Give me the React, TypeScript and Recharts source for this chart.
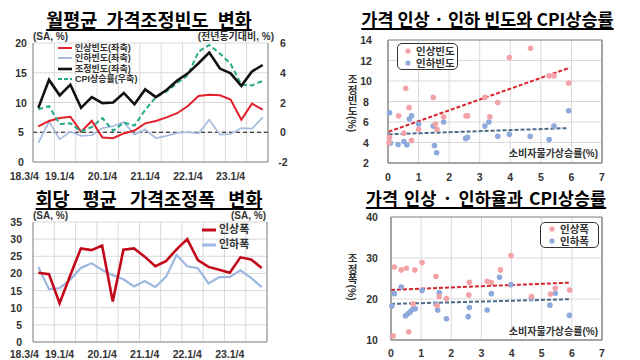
import React from 'react';
import {
  LineChart, Line, XAxis, YAxis, CartesianGrid, ReferenceLine,
  ScatterChart, Scatter, ReferenceArea,
} from 'recharts';

const FONT = '"Noto Sans CJK KR", "Noto Sans", sans-serif';
const SMALL = '"Liberation Sans", "Noto Sans CJK KR", sans-serif';

// ---------- time-series data (2018 Q3 .. 2023 Q4) ----------
const quarterIdx = [0, 1, 2, 3, 4, 5, 6, 7, 8, 9, 10, 11, 12, 13, 14, 15, 16, 17, 18, 19, 20, 21];
const timeTicks = [0, 2, 6, 10, 14, 18];
const timeTickLabels = ['18.3/4', '19.1/4', '20.1/4', '21.1/4', '22.1/4', '23.1/4'];
const gridX = [-0.5, 1.5, 3.5, 5.5, 7.5, 9.5, 11.5, 13.5, 15.5, 17.5, 19.5, 21.5];

const raiseFreq = [6.0, 6.9, 7.4, 7.6, 5.1, 6.9, 4.1, 4.0, 4.8, 5.3, 6.5, 6.9, 7.5, 8.2, 9.4, 11.1, 11.3, 11.2, 10.5, 7.1, 9.8, 8.8];
const cutFreq = [3.2, 6.8, 3.8, 5.1, 4.4, 4.5, 5.7, 6.0, 6.7, 4.6, 5.5, 4.0, 4.4, 4.9, 5.0, 4.8, 7.1, 4.6, 4.7, 5.7, 5.6, 7.5];
const adjFreq = [9.1, 13.8, 11.2, 13.0, 9.1, 10.9, 9.9, 10.0, 11.6, 9.7, 12.2, 10.9, 12.1, 13.7, 14.9, 16.6, 18.4, 15.7, 14.9, 12.8, 15.2, 16.3];
const cpiRate = [1.55, 1.75, 0.55, 0.6, 0.05, 0.35, 0.95, 0.1, 0.65, 0.45, 1.5, 2.35, 2.75, 3.3, 3.85, 5.42, 5.87, 5.3, 4.6, 3.2, 3.15, 3.45];

const raiseSize = [20.2, 19.8, 11.3, 19.4, 27.3, 26.8, 28.1, 11.8, 26.9, 27.3, 24.9, 22.1, 23.6, 27.0, 30.0, 23.9, 21.9, 21.1, 20.2, 24.7, 24.1, 21.6];
const cutSize = [21.9, 15.4, 15.7, 18.2, 21.6, 23.0, 21.0, 19.5, 18.3, 16.2, 17.8, 16.0, 19.0, 25.4, 22.1, 21.5, 17.1, 18.9, 19.0, 20.9, 18.7, 16.0];

// ---------- scatter data ----------
const sfRaiseX = [0.05, 0.03, 0.35, 0.52, 0.58, 0.69, 0.77, 1.0, 1.48, 1.55, 1.6, 1.82, 2.55, 2.61, 3.17, 3.33, 3.59, 3.97, 4.66, 5.27, 5.43, 5.91];
const sfRaiseY = [4.5, 4.0, 6.6, 4.9, 9.3, 7.4, 4.2, 5.3, 8.4, 5.8, 5.3, 6.5, 6.6, 6.6, 8.4, 6.5, 7.9, 12.3, 13.2, 10.5, 10.5, 9.8];
const sfCutX = [0.05, 0.08, 0.33, 0.52, 0.62, 0.7, 0.77, 1.0, 1.48, 1.52, 1.59, 1.82, 2.54, 2.6, 3.17, 3.3, 3.59, 3.97, 4.65, 5.27, 5.43, 5.91];
const sfCutY = [6.9, 3.95, 3.8, 4.1, 3.75, 6.3, 6.6, 5.8, 5.6, 3.7, 3.0, 6.0, 4.4, 4.5, 5.6, 6.0, 4.6, 4.8, 4.6, 4.3, 5.6, 7.1];
const sfRaiseTrend = [{ x: 0.02, y: 5.05 }, { x: 5.95, y: 11.3 }];
const sfCutTrend = [{ x: 0.02, y: 4.8 }, { x: 5.85, y: 5.4 }];

const ssRaiseX = [0.07, 0.11, 0.34, 0.51, 0.59, 0.73, 0.79, 1.03, 1.49, 1.53, 1.6, 1.84, 2.58, 2.6, 3.19, 3.33, 3.63, 3.98, 4.66, 5.29, 5.45, 5.93];
const ssRaiseY = [11.0, 27.8, 27.1, 27.5, 12.0, 18.8, 27.1, 28.9, 25.5, 18.4, 20.6, 20.1, 21.0, 24.1, 24.3, 24.0, 27.1, 30.6, 20.6, 21.2, 22.6, 22.2];
const ssCutX = [0.03, 0.11, 0.34, 0.48, 0.56, 0.64, 0.72, 0.81, 1.03, 1.49, 1.55, 1.6, 1.84, 2.56, 2.6, 3.19, 3.33, 3.6, 3.98, 4.66, 5.27, 5.45, 5.92];
const ssCutY = [18.3, 21.3, 22.9, 15.9, 16.4, 16.9, 17.5, 17.6, 22.1, 18.8, 17.3, 21.6, 15.2, 15.7, 17.9, 17.3, 21.3, 25.3, 23.5, 20.2, 18.5, 21.4, 16.0];
const ssRaiseTrend = [{ x: 0, y: 22.2 }, { x: 5.95, y: 24.0 }];
const ssCutTrend = [{ x: 0, y: 18.8 }, { x: 5.95, y: 19.95 }];

// ---------- tables built from the arrays ----------
const freqRows = quarterIdx.map((i) => ({ i, raise: raiseFreq[i], cut: cutFreq[i], adj: adjFreq[i], cpi: cpiRate[i] }));
const sizeRows = quarterIdx.map((i) => ({ i, raise: raiseSize[i], cut: cutSize[i] }));
const zip = (xs: number[], ys: number[]) => xs.map((x, k) => ({ x, y: ys[k] }));

// ---------- styles ----------
const C = {
  red: '#E3212B',
  lightBlue: '#A7BCE0',
  black: '#111111',
  teal: '#25A887',
  darkRed: '#C3081B',
  blue2: '#9DB9E1',
  pink: '#F3A3A7',
  dotBlue: '#8EA9DB',
  trendRed: '#D8232D',
  trendSlate: '#4A6B8A',
  grid: '#D9D9D9',
  axis: '#8C8C8C',
  text: '#333333',
};

const tickText = { fontFamily: SMALL, fontSize: 10.5, fontWeight: 700, fill: C.text } as const;

const mkTick = (anchor: 'start' | 'middle' | 'end', dx: number, dy: number) => (p: any) => (
  <text x={p.x + dx} y={p.y + dy} textAnchor={anchor} dominantBaseline="central" {...tickText}>
    {p.payload.value}
  </text>
);

const mkTimeTick = (dy: number) => (p: any) => {
  const k = timeTicks.indexOf(p.payload.value);
  const label = k >= 0 ? timeTickLabels[k] : '';
  const shift = k === 0 ? -14 : 0;
  return (
    <text x={p.x + shift} y={p.y + dy} textAnchor="middle" dominantBaseline="central" {...tickText}>
      {label}
    </text>
  );
};

const abs = (left: number, top: number, extra: React.CSSProperties = {}): React.CSSProperties => ({
  position: 'absolute', left, top, ...extra,
});

const Title = ({ left, top, width, text, fs, ws }: { left: number; top: number; width: number; text: string; fs: number; ws: number }) => (
  <div
    style={abs(left, top, {
      width, textAlign: 'center', fontFamily: FONT, fontWeight: 700, fontSize: fs, lineHeight: '20px',
      color: '#000', textDecoration: 'underline', textDecorationThickness: '1.5px', textUnderlineOffset: '2px',
      whiteSpace: 'nowrap', wordSpacing: `${ws}px`,
    })}
  >
    {text}
  </div>
);

const SmallText = ({ left, top, text, align = 'left', width }: { left: number; top: number; text: string; align?: 'left' | 'right'; width?: number }) => (
  <div style={abs(left, top, { width, textAlign: align, fontFamily: SMALL, fontWeight: 700, fontSize: 10, lineHeight: '12px', color: C.text, whiteSpace: 'nowrap' })}>
    {text}
  </div>
);

const LineKey = ({ color, dash, w, label, fs = 9, h = 10.3 }: { color: string; dash?: string; w: number; label: string; fs?: number; h?: number }) => (
  <div style={{ display: 'flex', alignItems: 'center', height: h }}>
    <svg width={16} height={8} style={{ marginRight: 2, flex: 'none' }}>
      <line x1={1} y1={4} x2={15} y2={4} stroke={color} strokeWidth={w} strokeDasharray={dash} />
    </svg>
    <div style={{ fontFamily: SMALL, fontWeight: 700, fontSize: fs, lineHeight: `${h}px`, height: h, color: C.text, whiteSpace: 'nowrap' }}>{label}</div>
  </div>
);

const DotKey = ({ color, label }: { color: string; label: string }) => (
  <div style={{ display: 'flex', alignItems: 'center', height: 12 }}>
    <svg width={10} height={8} style={{ marginRight: 3, flex: 'none' }}>
      <circle cx={5} cy={4} r={2.6} fill={color} />
    </svg>
    <div style={{ fontFamily: SMALL, fontWeight: 700, fontSize: 10.5, lineHeight: '12px', height: 12, color: C.text, whiteSpace: 'nowrap' }}>{label}</div>
  </div>
);

const VLabel = ({ left, top, word, unit }: { left: number; top: number; word: string; unit: string }) => (
  <div style={abs(left, top, { writingMode: 'vertical-rl', fontFamily: SMALL, fontWeight: 700, fontSize: 10.5, lineHeight: '11px', color: C.text, whiteSpace: 'nowrap' })}>
    <span style={{ textOrientation: 'upright', fontFamily: FONT }}>{word}</span>
    <span style={{ textOrientation: 'sideways' }}>{unit}</span>
  </div>
);

const dot = (color: string) => (p: any) => <circle cx={p.cx} cy={p.cy} r={2.8} fill={color} />;

export default function App() {
  return (
    <div style={{ position: 'absolute', left: 0, top: 0, width: 640, height: 360, background: '#fff', overflow: 'hidden' }}>
      {/* ---------------- top-left ---------------- */}
      <div style={abs(0, 0)}>
        <LineChart width={320} height={190} data={freqRows} margin={{ top: 43, right: 0, bottom: 10, left: 0 }}>
          <CartesianGrid stroke={C.grid} verticalValues={gridX} yAxisId="l" />
          <XAxis dataKey="i" type="number" domain={[-0.5, 21.5]} ticks={timeTicks} height={18}
            tickSize={0} tickMargin={0} tickLine={false} axisLine={{ stroke: C.axis }} tick={mkTimeTick(14)} interval={0} />
          <YAxis yAxisId="l" domain={[0, 20]} ticks={[0, 5, 10, 15, 20]} width={33}
            tickSize={0} tickMargin={0} tickLine={false} axisLine={{ stroke: C.axis }} tick={mkTick('middle', -12, 0)} interval={0} />
          <YAxis yAxisId="r" orientation="right" domain={[-2, 6]} ticks={[-2, 0, 2, 4, 6]} width={52}
            tickSize={0} tickMargin={0} tickLine={false} axisLine={{ stroke: C.axis }} tick={mkTick('middle', 15, 0)} interval={0} />
          <ReferenceLine yAxisId="l" y={5} stroke="#111" strokeDasharray="4 3" strokeWidth={1.2} />
          <Line yAxisId="l" dataKey="cut" stroke={C.lightBlue} strokeWidth={1.7} dot={false} isAnimationActive={false} />
          <Line yAxisId="l" dataKey="raise" stroke={C.red} strokeWidth={2} dot={false} isAnimationActive={false} />
          <Line yAxisId="r" dataKey="cpi" stroke={C.teal} strokeWidth={2} strokeDasharray="5 3" dot={false} isAnimationActive={false} />
          <Line yAxisId="l" dataKey="adj" stroke={C.black} strokeWidth={2.6} dot={false} isAnimationActive={false} />
        </LineChart>
      </div>
      <Title left={29} top={9} width={240} fs={18.5} ws={5} text="월평균 가격조정빈도 변화" />
      <SmallText left={33} top={31} text="(SA, %)" />
      <SmallText left={170} top={31} width={104} align="right" text="(전년동기대비, %)" />
      <div style={abs(57, 43)}>
        <LineKey color={C.red} w={2} label="인상빈도(좌축)" />
        <LineKey color={C.lightBlue} w={2} label="인하빈도(좌축)" />
        <LineKey color={C.black} w={2.6} label="조정빈도(좌축)" />
        <LineKey color={C.teal} w={2} dash="4 2" label="CPI상승률(우축)" />
      </div>

      {/* ---------------- bottom-left ---------------- */}
      <div style={abs(0, 180)}>
        <LineChart width={320} height={190} data={sizeRows} margin={{ top: 42, right: 0, bottom: 10, left: 0 }}>
          <CartesianGrid stroke={C.grid} verticalValues={gridX} yAxisId="l" />
          <XAxis dataKey="i" type="number" domain={[-0.5, 21.5]} ticks={timeTicks} height={18}
            tickSize={0} tickMargin={0} tickLine={false} axisLine={{ stroke: C.axis }} tick={mkTimeTick(12)} interval={0} />
          <YAxis yAxisId="l" domain={[0, 35]} ticks={[0, 5, 10, 15, 20, 25, 30, 35]} width={33}
            tickSize={0} tickMargin={0} tickLine={false} axisLine={{ stroke: C.axis }} tick={mkTick('end', -11, 0)} interval={0} />
          <YAxis yAxisId="r" orientation="right" domain={[0, 35]} ticks={[0, 5, 10, 15, 20, 25, 30, 35]} width={53}
            tickSize={0} tickMargin={0} tickLine={false} axisLine={{ stroke: C.axis }} tick={mkTick('middle', 13, 0)} interval={0} />
          <Line yAxisId="l" dataKey="cut" stroke={C.blue2} strokeWidth={2.2} dot={false} isAnimationActive={false} />
          <Line yAxisId="l" dataKey="raise" stroke={C.darkRed} strokeWidth={2.6} dot={false} isAnimationActive={false} />
        </LineChart>
      </div>
      <Title left={29} top={188} width={240} fs={18.5} ws={9} text="회당 평균 가격조정폭 변화" />
      <SmallText left={33} top={210} text="(SA, %)" />
      <SmallText left={200} top={210} width={66} align="right" text="(SA, %)" />
      <div style={abs(201, 222)}>
        <LineKey color={C.darkRed} w={3} label="인상폭" fs={11} h={15} />
        <LineKey color={C.blue2} w={3} label="인하폭" fs={11} h={15} />
      </div>

      {/* ---------------- top-right ---------------- */}
      <div style={abs(320, 0)}>
        <ScatterChart width={320} height={190} margin={{ top: 40, right: 0, bottom: 10, left: 0 }}>
          <CartesianGrid stroke={C.grid} yAxisId="l" />
          <XAxis dataKey="x" type="number" domain={[0, 7]} ticks={[0, 1, 2, 3, 4, 5, 6, 7]} height={17}
            tickSize={0} tickMargin={0} tickLine={false} axisLine={{ stroke: C.axis }} tick={mkTick('middle', 0, 13.5)} interval={0} />
          <YAxis yAxisId="l" dataKey="y" type="number" domain={[2, 14]} ticks={[2, 4, 6, 8, 10, 12, 14]} width={68}
            tickSize={0} tickMargin={0} tickLine={false} axisLine={{ stroke: C.axis }} tick={mkTick('middle', -22, 0)} interval={0} />
          <YAxis yAxisId="r" orientation="right" type="number" domain={[2, 14]} ticks={[2, 4, 6, 8, 10, 12, 14]} width={38}
            tickSize={0} tickMargin={0} tickLine={false} axisLine={{ stroke: C.axis }} tick={mkTick('middle', 20, 0)} interval={0} />
          <ReferenceArea yAxisId="l" x1={0} x2={7} y1={2} y2={14} fill="none" stroke={C.axis} />
          <Scatter yAxisId="l" data={zip(sfCutX, sfCutY)} shape={dot(C.dotBlue)} isAnimationActive={false} />
          <Scatter yAxisId="l" data={zip(sfRaiseX, sfRaiseY)} shape={dot(C.pink)} isAnimationActive={false} />
          <ReferenceLine yAxisId="l" segment={sfRaiseTrend} stroke={C.trendRed} strokeWidth={2} strokeDasharray="4 2" />
          <ReferenceLine yAxisId="l" segment={sfCutTrend} stroke={C.trendSlate} strokeWidth={2} strokeDasharray="4 2" />
        </ScatterChart>
      </div>
      <Title left={340} top={9} width={295} fs={17.5} ws={0} text="가격 인상 · 인하 빈도와 CPI상승률" />
      <VLabel left={346} top={74} word="조정빈도" unit="(%)" />
      <SmallText left={470} top={148} width={128} align="right" text="소비자물가상승률(%)" />
      <div style={abs(397, 43, { width: 61, height: 27, border: '1.3px solid #333', borderRadius: 5, boxSizing: 'border-box', padding: '0 0 0 5px', display: 'flex', flexDirection: 'column', justifyContent: 'center', background: '#fff' })}>
        <DotKey color={C.pink} label="인상빈도" />
        <DotKey color={C.dotBlue} label="인하빈도" />
      </div>

      {/* ---------------- bottom-right ---------------- */}
      <div style={abs(320, 180)}>
        <ScatterChart width={320} height={190} margin={{ top: 37, right: 0, bottom: 10, left: 0 }}>
          <CartesianGrid stroke={C.grid} yAxisId="l" />
          <XAxis dataKey="x" type="number" domain={[0, 7]} ticks={[0, 1, 2, 3, 4, 5, 6, 7]} height={20}
            tickSize={0} tickMargin={0} tickLine={false} axisLine={{ stroke: C.axis }} tick={mkTick('middle', 0, 13)} interval={0} />
          <YAxis yAxisId="l" dataKey="y" type="number" domain={[10, 40]} ticks={[10, 20, 30, 40]} width={71}
            tickSize={0} tickMargin={0} tickLine={false} axisLine={{ stroke: C.axis }} tick={mkTick('middle', -19, 0)} interval={0} />
          <YAxis yAxisId="r" orientation="right" type="number" domain={[10, 40]} ticks={[10, 20, 30, 40]} width={38}
            tickSize={0} tickMargin={0} tickLine={false} axisLine={{ stroke: C.axis }} tick={mkTick('middle', 20, 0)} interval={0} />
          <ReferenceArea yAxisId="l" x1={0} x2={7} y1={10} y2={40} fill="none" stroke={C.axis} />
          <Scatter yAxisId="l" data={zip(ssCutX, ssCutY)} shape={dot(C.dotBlue)} isAnimationActive={false} />
          <Scatter yAxisId="l" data={zip(ssRaiseX, ssRaiseY)} shape={dot(C.pink)} isAnimationActive={false} />
          <ReferenceLine yAxisId="l" segment={ssRaiseTrend} stroke={C.trendRed} strokeWidth={2} strokeDasharray="4 2" />
          <ReferenceLine yAxisId="l" segment={ssCutTrend} stroke={C.trendSlate} strokeWidth={2} strokeDasharray="4 2" />
        </ScatterChart>
      </div>
      <Title left={346} top={188} width={280} fs={17.5} ws={2} text="가격 인상 · 인하율과 CPI상승률" />
      <VLabel left={346} top={253} word="조정폭" unit="(%)" />
      <SmallText left={470} top={326} width={128} align="right" text="소비자물가상승률(%)" />
      <div style={abs(540, 222, { width: 59, height: 26, border: '1.3px solid #333', borderRadius: 5, boxSizing: 'border-box', padding: '0 0 0 6px', display: 'flex', flexDirection: 'column', justifyContent: 'center', background: '#fff' })}>
        <DotKey color={C.pink} label="인상폭" />
        <DotKey color={C.dotBlue} label="인하폭" />
      </div>
    </div>
  );
}
